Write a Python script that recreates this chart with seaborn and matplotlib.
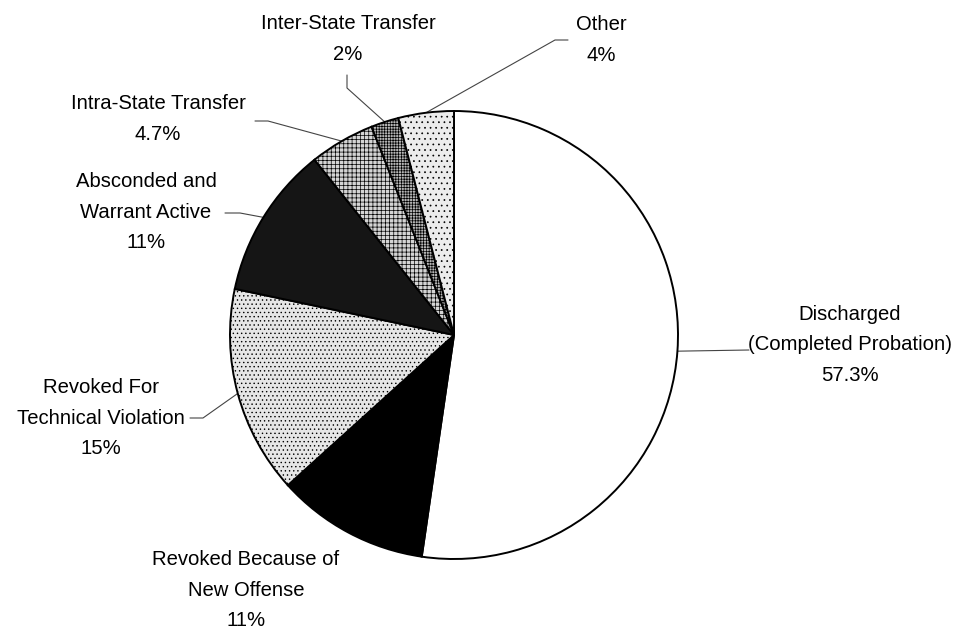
import numpy as np
import matplotlib.pyplot as plt
import seaborn as sns

# slice sizes (as drawn) and the printed labels
categories = ['Discharged\n(Completed Probation)', 'Revoked Because of\nNew Offense',
              'Revoked For\nTechnical Violation', 'Absconded and\nWarrant Active',
              'Intra-State Transfer', 'Inter-State Transfer', 'Other']
values = [52.3, 11, 15, 11, 4.7, 2, 4]
pct_labels = ['57.3%', '11%', '15%', '11%', '4.7%', '2%', '4%']

fills = ['white', 'black', '#e6e6e6', '#151515', '#d4d4d4', '#b5b5b5', '#ececec']
hatches = [None, None, '....', None, '++++', '++++++', '...']

sns.set_theme(style='white')
plt.rcParams['font.family'] = ['Liberation Sans', 'DejaVu Sans']
plt.rcParams['hatch.linewidth'] = 0.5

W, H = 961, 628
fig = plt.figure(figsize=(9.61, 6.28), dpi=100)
ax = fig.add_axes([0, 0, 1, 1])

cx, cy, r = 454, H - 335, 224
wedges, _ = ax.pie(values, colors=fills, startangle=90, counterclock=False,
                   center=(cx, cy), radius=r,
                   wedgeprops=dict(edgecolor='black', linewidth=1.4))
for w, h in zip(wedges, hatches):
    if h:
        w.set_hatch(h)

ax.set_xlim(0, W)
ax.set_ylim(0, H)
ax.set_aspect('equal')
ax.axis('off')

# label placement (pixel coords from top) and leader start/elbow points
label_pos = [(850, 345), (246, 590), (101, 418), (146, 212), (158, 119), (348, 39), (601, 40)]
leaders = [[(749, 350)], None, [(190, 418), (203, 418)], [(225, 213), (240, 213)],
           [(255, 121), (268, 121)], [(347, 75), (347, 88)], [(568, 40), (555, 40)]]

for w, cat, pct, pos, lead in zip(wedges, categories, pct_labels, label_pos, leaders):
    ax.text(pos[0], H - pos[1], cat + '\n' + pct, ha='center', va='center',
            fontsize=14.6, linespacing=1.75, color='black')
    if lead is None:
        continue
    mid = np.deg2rad((w.theta1 + w.theta2) / 2)
    ex, ey = cx + r * np.cos(mid), cy + r * np.sin(mid)
    xs = [p[0] for p in lead] + [ex]
    ys = [H - p[1] for p in lead] + [ey]
    ax.plot(xs, ys, color='#444444', lw=0.8, zorder=0.5)

plt.savefig('out.png', dpi=100)
